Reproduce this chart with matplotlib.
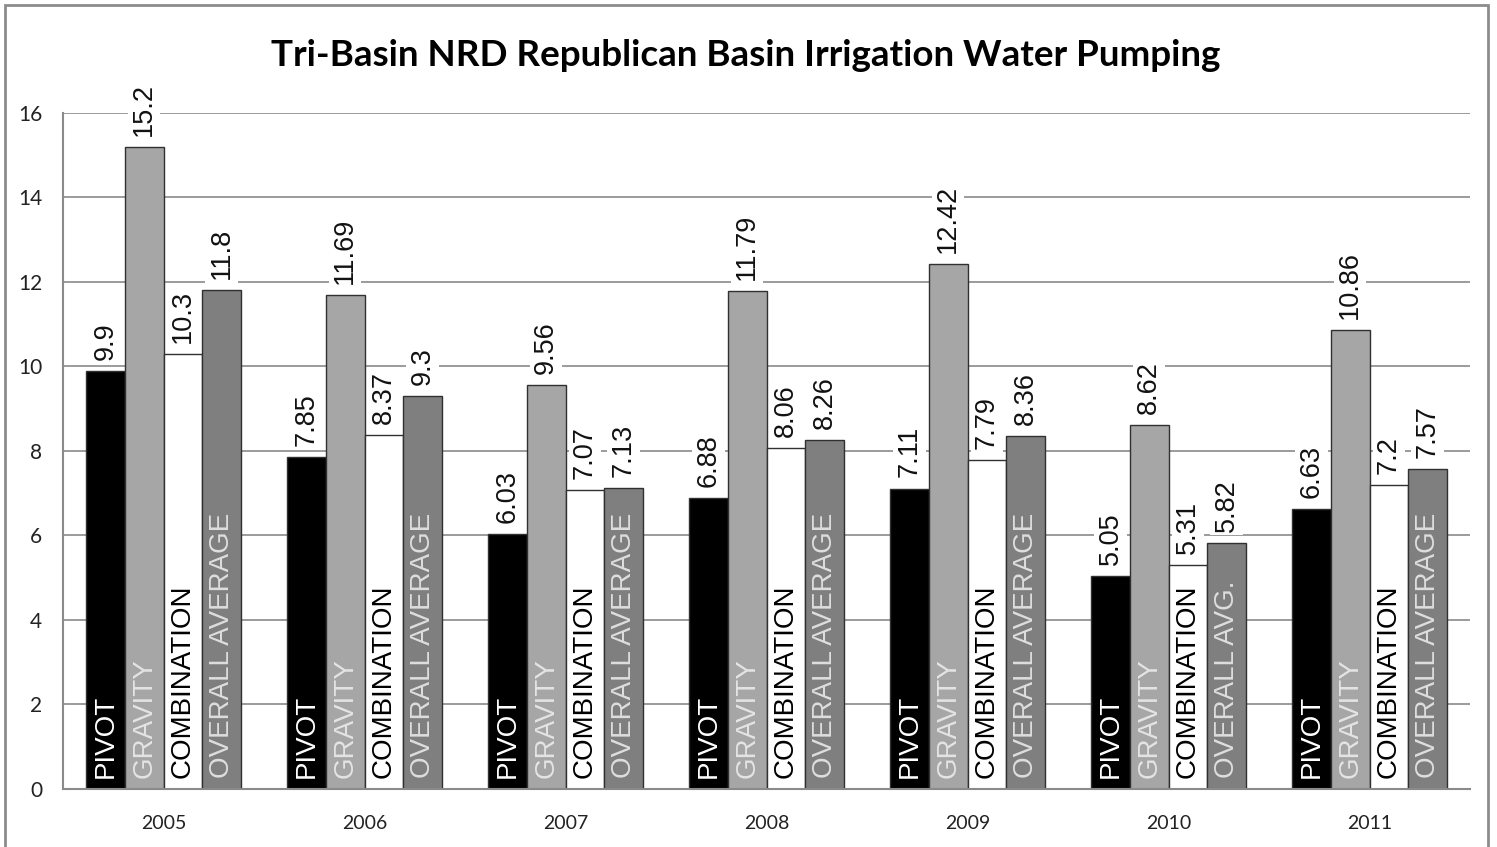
import matplotlib
matplotlib.use("Agg")
import matplotlib.pyplot as plt
import numpy as np
from matplotlib.patches import Rectangle

# data
years = ["2005", "2006", "2007", "2008", "2009", "2010", "2011"]
pivot = [9.9, 7.85, 6.03, 6.88, 7.11, 5.05, 6.63]
gravity = [15.2, 11.69, 9.56, 11.79, 12.42, 8.62, 10.86]
combination = [10.3, 8.37, 7.07, 8.06, 7.79, 5.31, 7.2]
overall = [11.8, 9.3, 7.13, 8.26, 8.36, 5.82, 7.57]
overall_names = ["OVERALL AVERAGE"] * 5 + ["OVERALL AVG."] + ["OVERALL AVERAGE"]

series = [
    (pivot, "#000000", "#ffffff", ["PIVOT"] * 7),
    (gravity, "#a6a6a6", "#e4e4e4", ["GRAVITY"] * 7),
    (combination, "#ffffff", "#000000", ["COMBINATION"] * 7),
    (overall, "#7f7f7f", "#dedede", overall_names),
]

fig = plt.figure(figsize=(14.97, 8.47), dpi=100)
ax = fig.add_axes([0.0421, 0.0685, 0.9399, 0.7981])

# outer chart frame (bottom edge cropped in the original)
fig.patches.append(Rectangle((0.0035, -0.05), 0.9905, 1.044, transform=fig.transFigure,
                             fill=False, edgecolor="#8c8c8c", linewidth=2))

x = np.arange(len(years))
w = 0.1925
offsets = [-1.5 * w, -0.5 * w, 0.5 * w, 1.5 * w]

for (vals, color, tcolor, names), off in zip(series, offsets):
    bars = ax.bar(x + off, vals, width=w, color=color, edgecolor="#303030",
                  linewidth=1, zorder=2)
    for b, v, name in zip(bars, vals, names):
        cx = b.get_x() + b.get_width() / 2
        ax.annotate(f"{v:g}", (cx, v), xytext=(0, 8), textcoords="offset points",
                    rotation=90, ha="center", va="bottom", fontsize=19.5,
                    family="Liberation Sans", color="#111111", zorder=3,
                    bbox=dict(boxstyle="square,pad=0.12", fc="white", ec="none"))
        ax.annotate(name, (cx, 0), xytext=(0, 8), textcoords="offset points",
                    rotation=90, ha="center", va="bottom", fontsize=20,
                    family="Liberation Sans", color=tcolor, zorder=3)

ax.set_xlim(-0.5, len(years) - 0.5)
ax.set_ylim(0, 16)
ax.set_yticks(range(0, 17, 2))
ax.set_xticks(x)
ax.set_xticklabels(years, family="Lato", fontsize=14, color="#222222")
for lbl in ax.get_yticklabels():
    lbl.set_family("Lato")
    lbl.set_fontsize(15)
    lbl.set_color("#222222")
ax.tick_params(axis="both", length=0)
ax.tick_params(axis="y", pad=15)
ax.tick_params(axis="x", pad=19)

ax.grid(axis="y", color="#8a8a8a", linewidth=1.2, zorder=0)
ax.set_axisbelow(True)
for side in ["top", "right"]:
    ax.spines[side].set_visible(False)
for side in ["left", "bottom"]:
    ax.spines[side].set_color("#8a8a8a")
    ax.spines[side].set_linewidth(1.5)

fig.text(0.498, 0.935, "Tri-Basin NRD Republican Basin Irrigation Water Pumping",
         ha="center", va="center", fontsize=26.5, fontweight="bold", family="Lato")

fig.savefig("out.png", dpi=100)
